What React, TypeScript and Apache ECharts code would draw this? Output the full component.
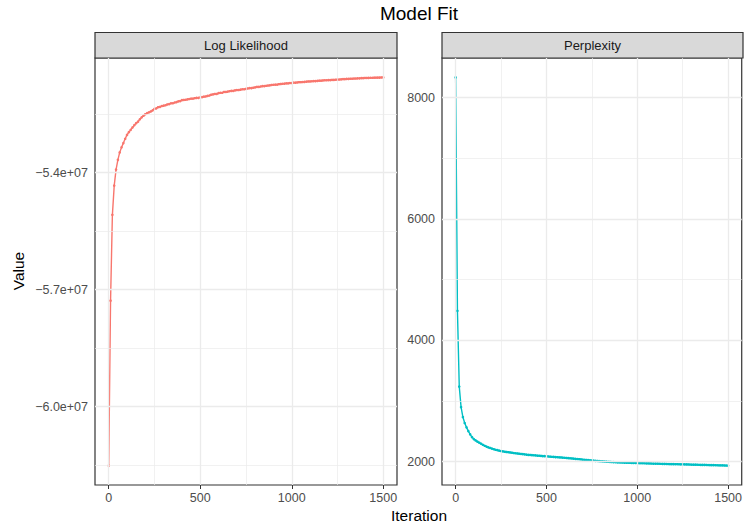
import React, { useEffect, useRef } from "react";
import * as echarts from "echarts";

const iterations = [
  0, 10, 20, 30, 40, 50, 60, 70, 80, 90, 100, 110, 120, 130, 140, 150, 160, 170, 180, 190,
  200, 210, 220, 230, 240, 250, 260, 270, 280, 290, 300, 310, 320, 330, 340, 350, 360, 370, 380, 390,
  400, 410, 420, 430, 440, 450, 460, 470, 480, 490, 500, 510, 520, 530, 540, 550, 560, 570, 580, 590,
  600, 610, 620, 630, 640, 650, 660, 670, 680, 690, 700, 710, 720, 730, 740, 750, 760, 770, 780, 790,
  800, 810, 820, 830, 840, 850, 860, 870, 880, 890, 900, 910, 920, 930, 940, 950, 960, 970, 980, 990,
  1000, 1010, 1020, 1030, 1040, 1050, 1060, 1070, 1080, 1090, 1100, 1110, 1120, 1130, 1140, 1150, 1160, 1170, 1180, 1190,
  1200, 1210, 1220, 1230, 1240, 1250, 1260, 1270, 1280, 1290, 1300, 1310, 1320, 1330, 1340, 1350, 1360, 1370, 1380, 1390,
  1400, 1410, 1420, 1430, 1440, 1450, 1460, 1470, 1480, 1490, 1500,
];

// Log likelihood, in millions
const logLikelihoodMillions = [
  -61.51, -57.28, -55.08, -54.33, -53.92, -53.67, -53.48, -53.35, -53.24, -53.13,
  -53.03, -52.96, -52.9, -52.84, -52.78, -52.73, -52.69, -52.63, -52.58, -52.54,
  -52.5, -52.47, -52.45, -52.43, -52.4, -52.36, -52.35, -52.32, -52.31, -52.29,
  -52.28, -52.27, -52.25, -52.24, -52.22, -52.22, -52.2, -52.19, -52.17, -52.165,
  -52.14, -52.135, -52.13, -52.12, -52.11, -52.1, -52.1, -52.09, -52.08, -52.08,
  -52.07, -52.06, -52.05, -52.045, -52.03, -52.02, -52.0, -51.99, -51.98, -51.98,
  -51.96, -51.95, -51.95, -51.93, -51.93, -51.92, -51.91, -51.9, -51.9, -51.89,
  -51.88, -51.88, -51.87, -51.86, -51.86, -51.85, -51.84, -51.83, -51.83, -51.82,
  -51.81, -51.8, -51.8, -51.79, -51.78, -51.78, -51.77, -51.765, -51.76, -51.75,
  -51.745, -51.74, -51.74, -51.73, -51.725, -51.72, -51.715, -51.71, -51.71, -51.7,
  -51.7, -51.69, -51.69, -51.685, -51.68, -51.68, -51.675, -51.67, -51.665, -51.66,
  -51.66, -51.655, -51.65, -51.65, -51.645, -51.64, -51.64, -51.635, -51.63, -51.63,
  -51.625, -51.625, -51.62, -51.62, -51.615, -51.61, -51.61, -51.605, -51.6, -51.6,
  -51.595, -51.595, -51.59, -51.59, -51.585, -51.585, -51.58, -51.58, -51.575, -51.575,
  -51.57, -51.57, -51.568, -51.566, -51.565, -51.563, -51.562, -51.56, -51.56, -51.558,
  -51.556,
];

const perplexity = [
  8333, 4486, 3237, 2899, 2735, 2636, 2565, 2504, 2450, 2405,
  2372, 2350, 2330, 2312, 2295, 2278, 2262, 2248, 2236, 2225,
  2215, 2205, 2196, 2189, 2181, 2175, 2170, 2164, 2159, 2155,
  2151, 2147, 2142, 2138, 2135, 2131, 2127, 2124, 2120, 2116,
  2112, 2110, 2107, 2105, 2103, 2100, 2098, 2095, 2092, 2090,
  2088, 2085, 2083, 2080, 2078, 2075, 2073, 2071, 2069, 2067,
  2064, 2061, 2058, 2055, 2052, 2049, 2046, 2043, 2040, 2037,
  2034, 2031, 2028, 2025, 2022, 2018, 2016, 2013, 2011, 2008,
  2006, 2004, 2002, 2000, 1998, 1996, 1994, 1993, 1991, 1989,
  1988, 1986, 1985, 1984, 1983, 1982, 1981, 1980, 1979, 1978,
  1977, 1976, 1975, 1974, 1973, 1972, 1971, 1970, 1969, 1968,
  1968, 1967, 1966, 1965, 1964, 1963, 1962, 1961, 1960, 1960,
  1959, 1958, 1958, 1957, 1956, 1956, 1955, 1954, 1953, 1952,
  1951, 1950, 1950, 1949, 1948, 1947, 1946, 1946, 1945, 1944,
  1943, 1942, 1942, 1941, 1940, 1939, 1938, 1938, 1937, 1936,
  1935,
];

const panelTitles = ["Log Likelihood", "Perplexity"];
const iterationTicks = [0, 500, 1000, 1500];
const iterationMinorTicks = [250, 750, 1250];
const logLikelihoodTicks = [-60000000, -57000000, -54000000];
const logLikelihoodMinorTicks = [-61500000, -58500000, -55500000, -52500000];
const perplexityTicks = [2000, 4000, 6000, 8000];
const perplexityMinorTicks = [3000, 5000, 7000];

const FONT = "Liberation Sans, Arial, Helvetica, sans-serif";
const GRID_COLOR = "#EBEBEB";
const BORDER = "#333333";

function expand(vals: number[], mult = 0.05) {
  const mn = Math.min(...vals);
  const mx = Math.max(...vals);
  const r = mx - mn;
  return [mn - r * mult, mx + r * mult];
}

export default function App() {
  const ref = useRef<HTMLDivElement>(null);
  useEffect(() => {
    if (!ref.current) return;
    const chart = echarts.init(ref.current, null, { renderer: "svg" });

    const ll = logLikelihoodMillions.map((v) => v * 1e6);
    const llData = iterations.map((it, i) => [it, ll[i]]);
    const pxData = iterations.map((it, i) => [it, perplexity[i]]);
    const [xMin, xMax] = expand(iterations);
    const [llMin, llMax] = expand(ll);
    const [pxMin, pxMax] = expand(perplexity);

    const gridLines = (xMaj: number[], xMin2: number[], yMaj: number[], yMin2: number[]) => [
      ...xMin2.map((v) => ({ xAxis: v, lineStyle: { color: GRID_COLOR, width: 0.7, type: "solid" } })),
      ...yMin2.map((v) => ({ yAxis: v, lineStyle: { color: GRID_COLOR, width: 0.7, type: "solid" } })),
      ...xMaj.map((v) => ({ xAxis: v, lineStyle: { color: GRID_COLOR, width: 1.3, type: "solid" } })),
      ...yMaj.map((v) => ({ yAxis: v, lineStyle: { color: GRID_COLOR, width: 1.3, type: "solid" } })),
    ];

    const xAxisCfg = (gridIndex: number) => ({
      gridIndex,
      type: "value",
      min: xMin,
      max: xMax,
      splitLine: { show: false },
      axisLine: { show: false },
      axisTick: {
        show: true,
        customValues: iterationTicks,
        length: 4,
        lineStyle: { color: BORDER, width: 1 },
      },
      axisLabel: {
        customValues: iterationTicks,
        margin: 6,
        color: "#4D4D4D",
        fontSize: 12.5,
        fontFamily: FONT,
        formatter: (v: number) => String(Math.round(v)),
      },
    });

    const yAxisCfg = (gridIndex: number, mn: number, mx: number, ticks: number[], fmt: (v: number) => string) => ({
      gridIndex,
      type: "value",
      min: mn,
      max: mx,
      scale: true,
      splitLine: { show: false },
      axisLine: { show: false },
      axisTick: {
        show: true,
        customValues: ticks,
        length: 4,
        lineStyle: { color: BORDER, width: 1 },
      },
      axisLabel: {
        customValues: ticks,
        margin: 7,
        color: "#4D4D4D",
        fontSize: 12.5,
        fontFamily: FONT,
        formatter: fmt,
      },
    });

    const llFmt = (v: number) => (v / 1e7).toFixed(1).replace("-", "\u2212") + "e+07";
    const pxFmt = (v: number) => String(Math.round(v));

    const helper = (idx: number, data: number[][], lines: any[]) => ({
      type: "line",
      xAxisIndex: idx,
      yAxisIndex: idx,
      data: [data[data.length - 1]],
      showSymbol: false,
      lineStyle: { opacity: 0 },
      z: 1,
      silent: true,
      markLine: {
        silent: true,
        symbol: ["none", "none"],
        label: { show: false },
        emphasis: { disabled: true },
        animation: false,
        data: lines,
      },
    });

    const stripText = (x: number, text: string) => ({
      type: "text",
      x,
      y: 45,
      z: 10,
      style: {
        text,
        fill: "#1A1A1A",
        fontSize: 13,
        fontFamily: FONT,
        align: "center",
        verticalAlign: "middle",
      },
    });

    chart.setOption({
      animation: false,
      backgroundColor: "#FFFFFF",
      grid: [
        { left: 95, top: 58, width: 302, height: 427, show: true, borderColor: BORDER, borderWidth: 1.2, backgroundColor: "transparent" },
        { left: 442, top: 58, width: 301, height: 427, show: true, borderColor: BORDER, borderWidth: 1.2, backgroundColor: "transparent" },
      ],
      xAxis: [xAxisCfg(0), xAxisCfg(1)],
      yAxis: [
        yAxisCfg(0, llMin, llMax, logLikelihoodTicks, llFmt),
        yAxisCfg(1, pxMin, pxMax, perplexityTicks, pxFmt),
      ],
      series: [
        helper(0, llData, gridLines(iterationTicks, iterationMinorTicks, logLikelihoodTicks, logLikelihoodMinorTicks)),
        helper(1, pxData, gridLines(iterationTicks, iterationMinorTicks, perplexityTicks, perplexityMinorTicks)),
        {
          name: panelTitles[0],
          type: "line",
          xAxisIndex: 0,
          yAxisIndex: 0,
          data: llData,
          z: 3,
          symbol: "circle",
          symbolSize: 2.6,
          showSymbol: true,
          itemStyle: { color: "#F8766D" },
          lineStyle: { color: "#F8766D", width: 1.4 },
          emphasis: { disabled: true },
        },
        {
          name: panelTitles[1],
          type: "line",
          xAxisIndex: 1,
          yAxisIndex: 1,
          data: pxData,
          z: 3,
          symbol: "circle",
          symbolSize: 2.6,
          showSymbol: true,
          itemStyle: { color: "#00BFC4" },
          lineStyle: { color: "#00BFC4", width: 1.4 },
          emphasis: { disabled: true },
        },
      ],
      graphic: [
        {
          type: "rect",
          z: 5,
          shape: { x: 95, y: 32.5, width: 302, height: 25.5 },
          style: { fill: "#D9D9D9", stroke: BORDER, lineWidth: 1.2 },
        },
        {
          type: "rect",
          z: 5,
          shape: { x: 442, y: 32.5, width: 301, height: 25.5 },
          style: { fill: "#D9D9D9", stroke: BORDER, lineWidth: 1.2 },
        },
        stripText(246, panelTitles[0]),
        stripText(592.5, panelTitles[1]),
        {
          type: "text",
          x: 419,
          y: 13,
          style: { text: "Model Fit", fill: "#000000", fontSize: 19, fontFamily: FONT, align: "center", verticalAlign: "middle" },
        },
        {
          type: "text",
          x: 419,
          y: 515,
          style: { text: "Iteration", fill: "#000000", fontSize: 15.5, fontFamily: FONT, align: "center", verticalAlign: "middle" },
        },
        {
          type: "text",
          x: 18,
          y: 271,
          rotation: Math.PI / 2,
          style: { text: "Value", fill: "#000000", fontSize: 15.5, fontFamily: FONT, align: "center", verticalAlign: "middle" },
        },
      ],
    });

    return () => chart.dispose();
  }, []);

  return (
    <div
      ref={ref}
      style={{ position: "absolute", left: 0, top: 0, width: 745, height: 527, background: "#fff" }}
    />
  );
}
